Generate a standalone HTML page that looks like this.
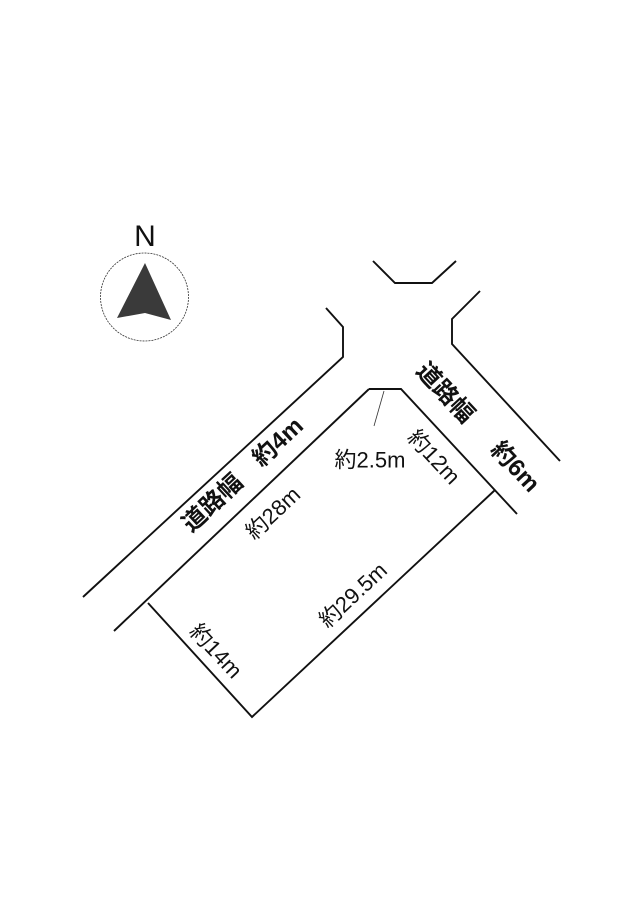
<!DOCTYPE html>
<html><head><meta charset="utf-8"><style>
html,body{margin:0;padding:0;background:#fff;}
svg{display:block}
text{font-family:"Liberation Sans","Noto Sans CJK JP",sans-serif;fill:#111}
</style></head><body>
<svg width="640" height="907" viewBox="0 0 640 907" xmlns="http://www.w3.org/2000/svg">
<rect width="640" height="907" fill="#fff"/>
<g stroke="#111" stroke-width="1.9" fill="none" stroke-linejoin="miter">
<polyline points="373,261 395,283 432,283 456,261"/>
<polyline points="326,308 343,327 343,357 83,597"/>
<polyline points="480,291 452,319 452,344 560,461"/>
<line x1="369" y1="389" x2="114" y2="631"/>
<polyline points="369,389 401,389 517,514"/>
<polyline points="495,490 252,717 148,603"/>
</g>
<line x1="384" y1="391" x2="374" y2="426" stroke="#333" stroke-width="0.8"/>
<circle cx="144.5" cy="297" r="44" fill="none" stroke="#333" stroke-width="0.8" stroke-dasharray="2,1"/>
<polygon points="145,263 117,318 145,313 171,320" fill="#3a3a3a"/>
<text x="145" y="246" font-size="30" text-anchor="middle">N</text>
<text transform="translate(243,475) rotate(-43)" font-size="24" font-weight="bold" text-anchor="middle" dominant-baseline="central">道路幅　約4m</text>
<text transform="translate(273,513) rotate(-43)" font-size="22" text-anchor="middle" dominant-baseline="central">約28m</text>
<text x="370" y="460" font-size="22" text-anchor="middle" dominant-baseline="central">約2.5m</text>
<text transform="translate(434,457) rotate(47)" font-size="22" text-anchor="middle" dominant-baseline="central">約12m</text>
<text transform="translate(445,393) rotate(47)" font-size="24" font-weight="bold" text-anchor="middle" dominant-baseline="central">道路幅</text>
<text transform="translate(515,467) rotate(47)" font-size="24" font-weight="bold" text-anchor="middle" dominant-baseline="central">約6m</text>
<text transform="translate(353,595) rotate(-43)" font-size="22" text-anchor="middle" dominant-baseline="central">約29.5m</text>
<text transform="translate(216,651) rotate(47)" font-size="22" text-anchor="middle" dominant-baseline="central">約14m</text>
</svg>
</body></html>
